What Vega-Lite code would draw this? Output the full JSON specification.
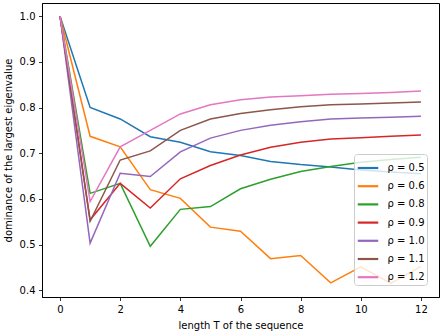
{
  "$schema": "https://vega.github.io/schema/vega-lite/v6.json",
  "width": 397,
  "height": 294,
  "autosize": "none",
  "padding": {"left": 42, "top": 3, "right": 1, "bottom": 35},
  "background": "white",
  "config": {
    "font": "DejaVu Sans",
    "view": {"stroke": "#000", "strokeWidth": 1},
    "axis": {
      "grid": false,
      "domainColor": "#000",
      "tickColor": "#000",
      "tickSize": 3.5,
      "tickWidth": 0.8,
      "labelFont": "DejaVu Sans",
      "labelFontSize": 10,
      "labelColor": "#000",
      "titleFont": "DejaVu Sans",
      "titleFontSize": 10,
      "titleFontWeight": "normal",
      "titleColor": "#000",
      "labelPadding": 3.5
    }
  },
  "data": {
    "values": [
      {"T":0,"v":1.0,"s":"ρ = 0.5"},{"T":1,"v":0.800,"s":"ρ = 0.5"},{"T":2,"v":0.775,"s":"ρ = 0.5"},{"T":3,"v":0.736,"s":"ρ = 0.5"},{"T":4,"v":0.724,"s":"ρ = 0.5"},{"T":5,"v":0.703,"s":"ρ = 0.5"},{"T":6,"v":0.695,"s":"ρ = 0.5"},{"T":7,"v":0.682,"s":"ρ = 0.5"},{"T":8,"v":0.675,"s":"ρ = 0.5"},{"T":9,"v":0.670,"s":"ρ = 0.5"},{"T":10,"v":0.663,"s":"ρ = 0.5"},{"T":11,"v":0.659,"s":"ρ = 0.5"},{"T":12,"v":0.655,"s":"ρ = 0.5"},
      {"T":0,"v":1.0,"s":"ρ = 0.6"},{"T":1,"v":0.737,"s":"ρ = 0.6"},{"T":2,"v":0.714,"s":"ρ = 0.6"},{"T":3,"v":0.620,"s":"ρ = 0.6"},{"T":4,"v":0.601,"s":"ρ = 0.6"},{"T":5,"v":0.538,"s":"ρ = 0.6"},{"T":6,"v":0.529,"s":"ρ = 0.6"},{"T":7,"v":0.469,"s":"ρ = 0.6"},{"T":8,"v":0.476,"s":"ρ = 0.6"},{"T":9,"v":0.416,"s":"ρ = 0.6"},{"T":10,"v":0.451,"s":"ρ = 0.6"},{"T":11,"v":0.415,"s":"ρ = 0.6"},{"T":12,"v":0.452,"s":"ρ = 0.6"},
      {"T":0,"v":1.0,"s":"ρ = 0.8"},{"T":1,"v":0.612,"s":"ρ = 0.8"},{"T":2,"v":0.634,"s":"ρ = 0.8"},{"T":3,"v":0.496,"s":"ρ = 0.8"},{"T":4,"v":0.577,"s":"ρ = 0.8"},{"T":5,"v":0.583,"s":"ρ = 0.8"},{"T":6,"v":0.622,"s":"ρ = 0.8"},{"T":7,"v":0.643,"s":"ρ = 0.8"},{"T":8,"v":0.660,"s":"ρ = 0.8"},{"T":9,"v":0.671,"s":"ρ = 0.8"},{"T":10,"v":0.680,"s":"ρ = 0.8"},{"T":11,"v":0.686,"s":"ρ = 0.8"},{"T":12,"v":0.691,"s":"ρ = 0.8"},
      {"T":0,"v":1.0,"s":"ρ = 0.9"},{"T":1,"v":0.554,"s":"ρ = 0.9"},{"T":2,"v":0.634,"s":"ρ = 0.9"},{"T":3,"v":0.580,"s":"ρ = 0.9"},{"T":4,"v":0.644,"s":"ρ = 0.9"},{"T":5,"v":0.673,"s":"ρ = 0.9"},{"T":6,"v":0.696,"s":"ρ = 0.9"},{"T":7,"v":0.713,"s":"ρ = 0.9"},{"T":8,"v":0.724,"s":"ρ = 0.9"},{"T":9,"v":0.731,"s":"ρ = 0.9"},{"T":10,"v":0.734,"s":"ρ = 0.9"},{"T":11,"v":0.737,"s":"ρ = 0.9"},{"T":12,"v":0.740,"s":"ρ = 0.9"},
      {"T":0,"v":1.0,"s":"ρ = 1.0"},{"T":1,"v":0.503,"s":"ρ = 1.0"},{"T":2,"v":0.656,"s":"ρ = 1.0"},{"T":3,"v":0.649,"s":"ρ = 1.0"},{"T":4,"v":0.703,"s":"ρ = 1.0"},{"T":5,"v":0.733,"s":"ρ = 1.0"},{"T":6,"v":0.750,"s":"ρ = 1.0"},{"T":7,"v":0.761,"s":"ρ = 1.0"},{"T":8,"v":0.769,"s":"ρ = 1.0"},{"T":9,"v":0.775,"s":"ρ = 1.0"},{"T":10,"v":0.777,"s":"ρ = 1.0"},{"T":11,"v":0.779,"s":"ρ = 1.0"},{"T":12,"v":0.781,"s":"ρ = 1.0"},
      {"T":0,"v":1.0,"s":"ρ = 1.1"},{"T":1,"v":0.551,"s":"ρ = 1.1"},{"T":2,"v":0.685,"s":"ρ = 1.1"},{"T":3,"v":0.705,"s":"ρ = 1.1"},{"T":4,"v":0.750,"s":"ρ = 1.1"},{"T":5,"v":0.775,"s":"ρ = 1.1"},{"T":6,"v":0.787,"s":"ρ = 1.1"},{"T":7,"v":0.795,"s":"ρ = 1.1"},{"T":8,"v":0.802,"s":"ρ = 1.1"},{"T":9,"v":0.806,"s":"ρ = 1.1"},{"T":10,"v":0.808,"s":"ρ = 1.1"},{"T":11,"v":0.810,"s":"ρ = 1.1"},{"T":12,"v":0.812,"s":"ρ = 1.1"},
      {"T":0,"v":1.0,"s":"ρ = 1.2"},{"T":1,"v":0.594,"s":"ρ = 1.2"},{"T":2,"v":0.714,"s":"ρ = 1.2"},{"T":3,"v":0.750,"s":"ρ = 1.2"},{"T":4,"v":0.786,"s":"ρ = 1.2"},{"T":5,"v":0.806,"s":"ρ = 1.2"},{"T":6,"v":0.817,"s":"ρ = 1.2"},{"T":7,"v":0.823,"s":"ρ = 1.2"},{"T":8,"v":0.826,"s":"ρ = 1.2"},{"T":9,"v":0.829,"s":"ρ = 1.2"},{"T":10,"v":0.831,"s":"ρ = 1.2"},{"T":11,"v":0.833,"s":"ρ = 1.2"},{"T":12,"v":0.836,"s":"ρ = 1.2"}
    ]
  },
  "mark": {"type": "line", "strokeWidth": 1.5, "clip": true},
  "encoding": {
    "x": {
      "field": "T", "type": "quantitative",
      "scale": {"domain": [-0.6, 12.6], "nice": false, "zero": false},
      "axis": {"values": [0, 2, 4, 6, 8, 10, 12], "title": "length T of the sequence", "titlePadding": 6}
    },
    "y": {
      "field": "v", "type": "quantitative",
      "scale": {"domain": [0.385, 1.029], "nice": false, "zero": false},
      "axis": {"values": [0.4, 0.5, 0.6, 0.7, 0.8, 0.9, 1.0], "format": ".1f", "title": "dominance of the largest eigenvalue", "titlePadding": 6}
    },
    "color": {
      "field": "s", "type": "nominal",
      "scale": {
        "domain": ["ρ = 0.5","ρ = 0.6","ρ = 0.8","ρ = 0.9","ρ = 1.0","ρ = 1.1","ρ = 1.2"],
        "range": ["#1f77b4","#ff7f0e","#2ca02c","#d62728","#9467bd","#8c564b","#e377c2"]
      },
      "legend": {
        "title": null,
        "orient": "none",
        "legendX": 312,
        "legendY": 151,
        "fillColor": "rgba(255,255,255,0.8)",
        "strokeColor": "#cccccc",
        "cornerRadius": 3,
        "padding": 2.5,
        "symbolType": "stroke",
        "symbolSize": 420,
        "symbolStrokeWidth": 2.2,
        "labelFont": "DejaVu Sans",
        "labelFontSize": 10,
        "labelColor": "#000",
        "labelOffset": 8,
        "rowPadding": 1.2
      }
    }
  }
}
